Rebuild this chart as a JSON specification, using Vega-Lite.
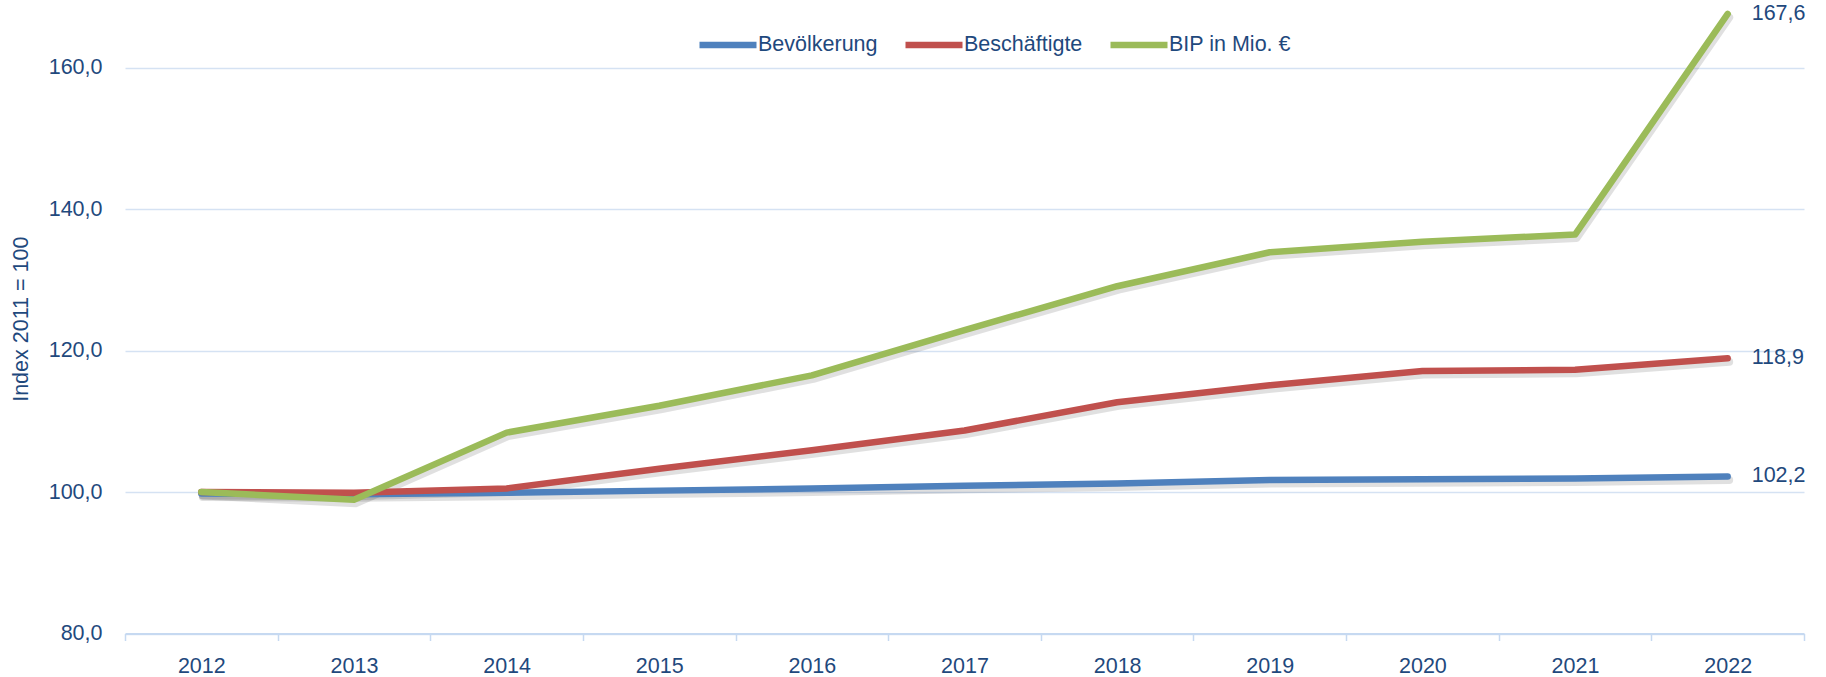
{
  "$schema": "https://vega.github.io/schema/vega-lite/v6.json",
  "width": 1679,
  "height": 629.5,
  "autosize": "none",
  "padding": {"left": 125, "top": 4, "right": 22, "bottom": 43.5},
  "background": "white",
  "config": {
    "locale": {"number": {"decimal": ",", "thousands": ".", "grouping": [3], "currency": ["", " €"]}},
    "view": {"stroke": null},
    "font": "Liberation Sans"
  },
  "data": {
    "values": [
      {"Jahr": "2012", "Reihe": "Bevölkerung", "Wert": 99.8},
      {"Jahr": "2013", "Reihe": "Bevölkerung", "Wert": 99.7},
      {"Jahr": "2014", "Reihe": "Bevölkerung", "Wert": 99.9},
      {"Jahr": "2015", "Reihe": "Bevölkerung", "Wert": 100.2},
      {"Jahr": "2016", "Reihe": "Bevölkerung", "Wert": 100.5},
      {"Jahr": "2017", "Reihe": "Bevölkerung", "Wert": 100.9},
      {"Jahr": "2018", "Reihe": "Bevölkerung", "Wert": 101.2},
      {"Jahr": "2019", "Reihe": "Bevölkerung", "Wert": 101.7},
      {"Jahr": "2020", "Reihe": "Bevölkerung", "Wert": 101.8},
      {"Jahr": "2021", "Reihe": "Bevölkerung", "Wert": 101.9},
      {"Jahr": "2022", "Reihe": "Bevölkerung", "Wert": 102.2},
      {"Jahr": "2012", "Reihe": "Beschäftigte", "Wert": 100.0},
      {"Jahr": "2013", "Reihe": "Beschäftigte", "Wert": 99.9},
      {"Jahr": "2014", "Reihe": "Beschäftigte", "Wert": 100.5},
      {"Jahr": "2015", "Reihe": "Beschäftigte", "Wert": 103.3},
      {"Jahr": "2016", "Reihe": "Beschäftigte", "Wert": 105.9},
      {"Jahr": "2017", "Reihe": "Beschäftigte", "Wert": 108.7},
      {"Jahr": "2018", "Reihe": "Beschäftigte", "Wert": 112.7},
      {"Jahr": "2019", "Reihe": "Beschäftigte", "Wert": 115.1},
      {"Jahr": "2020", "Reihe": "Beschäftigte", "Wert": 117.1},
      {"Jahr": "2021", "Reihe": "Beschäftigte", "Wert": 117.3},
      {"Jahr": "2022", "Reihe": "Beschäftigte", "Wert": 118.9},
      {"Jahr": "2012", "Reihe": "BIP in Mio. €", "Wert": 100.0},
      {"Jahr": "2013", "Reihe": "BIP in Mio. €", "Wert": 98.9},
      {"Jahr": "2014", "Reihe": "BIP in Mio. €", "Wert": 108.4},
      {"Jahr": "2015", "Reihe": "BIP in Mio. €", "Wert": 112.2},
      {"Jahr": "2016", "Reihe": "BIP in Mio. €", "Wert": 116.5},
      {"Jahr": "2017", "Reihe": "BIP in Mio. €", "Wert": 122.9},
      {"Jahr": "2018", "Reihe": "BIP in Mio. €", "Wert": 129.1},
      {"Jahr": "2019", "Reihe": "BIP in Mio. €", "Wert": 133.9},
      {"Jahr": "2020", "Reihe": "BIP in Mio. €", "Wert": 135.4},
      {"Jahr": "2021", "Reihe": "BIP in Mio. €", "Wert": 136.4},
      {"Jahr": "2022", "Reihe": "BIP in Mio. €", "Wert": 167.6}
    ]
  },
  "encoding": {
    "x": {
      "field": "Jahr",
      "type": "ordinal",
      "bandPosition": 0.5,
      "scale": {"type": "band", "paddingInner": 0, "paddingOuter": 0},
      "axis": {
        "title": null,
        "labelAngle": 0,
        "grid": false,
        "domainColor": "#c6d9f1",
        "domainWidth": 2,
        "ticks": true,
        "tickColor": "#c6d9f1",
        "tickWidth": 1.5,
        "tickSize": 7,
        "tickBand": "extent",
        "labelPadding": 15,
        "labelFontSize": 21.5,
        "labelColor": "#1F497D"
      }
    },
    "y": {
      "field": "Wert",
      "type": "quantitative",
      "scale": {"domain": [80, 169], "nice": false, "zero": false},
      "axis": {
        "title": "Index 2011 = 100",
        "titleFontSize": 21.5,
        "titleFontWeight": "normal",
        "titleColor": "#1F497D",
        "titlePadding": 16,
        "values": [80, 100, 120, 140, 160],
        "format": ".1f",
        "labelFontSize": 21.5,
        "labelColor": "#1F497D",
        "labelPadding": 23,
        "ticks": false,
        "domain": false,
        "grid": true,
        "gridColor": "#d5e2f3",
        "gridWidth": 1.3
      }
    }
  },
  "layer": [
    {
      "mark": {"type": "line", "strokeWidth": 8, "strokeCap": "round", "strokeJoin": "round", "color": "#000000", "opacity": 0.12, "yOffset": 3.5, "xOffset": 1.5},
      "encoding": {"detail": {"field": "Reihe", "type": "nominal"}}
    },
    {
      "mark": {"type": "line", "strokeWidth": 6.5, "strokeCap": "round", "strokeJoin": "round"},
      "encoding": {
        "color": {
          "field": "Reihe",
          "type": "nominal",
          "sort": null,
          "scale": {"domain": ["Bevölkerung", "Beschäftigte", "BIP in Mio. €"], "range": ["#4F81BD", "#C0504D", "#9BBB59"]},
          "legend": {
            "title": null,
            "orient": "none",
            "legendX": 571,
            "legendY": 9,
            "direction": "horizontal",
            "symbolType": "stroke",
            "symbolSize": 3249,
            "symbolStrokeWidth": 6.5,
            "labelFontSize": 21.5,
            "labelColor": "#1F497D",
            "labelOffset": -2,
            "columnPadding": 14,
            "padding": 0,
            "labelLimit": 300
          }
        }
      }
    },
    {
      "transform": [{"filter": "datum.Jahr == '2022'"}],
      "mark": {"type": "text", "align": "left", "baseline": "middle", "dx": 24, "fontSize": 21.5, "color": "#1F497D"},
      "encoding": {"text": {"field": "Wert", "type": "quantitative", "format": ".1f"}}
    }
  ]
}
